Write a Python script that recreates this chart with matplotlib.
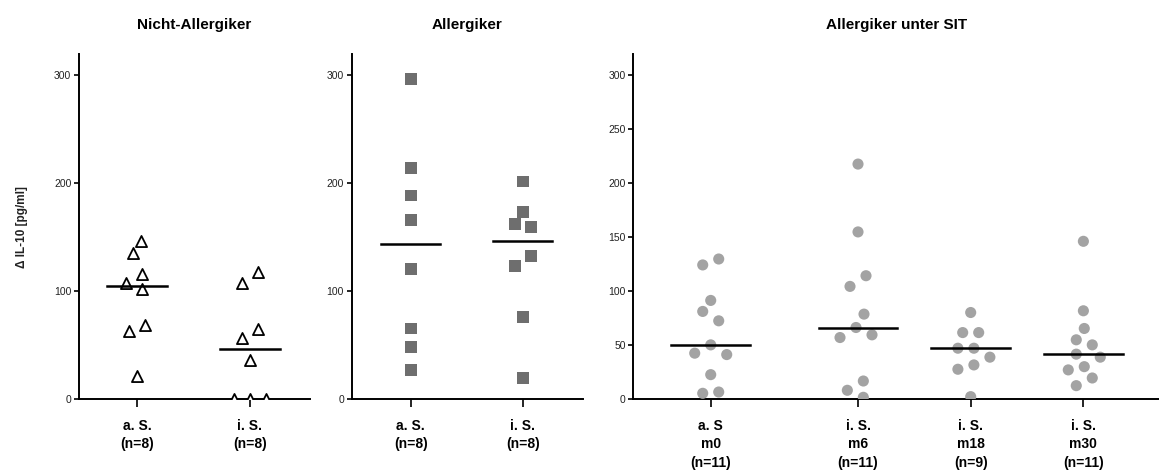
import numpy as np
import matplotlib.pyplot as plt

plt.rcParams['font.family'] = ['Liberation Sans', 'DejaVu Sans']

# values, per group
na_as = [146.6, 134.9, 115.7, 107.6, 102.0, 68.4, 63.1, 21.3]
na_is = [117.4, 107.6, 64.7, 56.6, 35.9, 0, 0, 0]
al_as = [296.1, 213.8, 188.3, 165.7, 120.2, 65.1, 47.9, 26.6]
al_is = [201.3, 173.4, 161.7, 159.5, 132.5, 123.2, 75.8, 19.5]
sit_m0 = [129.5, 124.0, 91.1, 80.9, 72.2, 49.9, 42.2, 40.9, 22.3, 6.2, 5.0]
sit_m6 = [217.5, 154.6, 114.0, 104.1, 78.4, 66.0, 59.2, 56.7, 16.4, 7.8, 1.3]
sit_m18 = [79.9, 61.3, 61.3, 46.8, 46.8, 38.5, 31.3, 27.3, 1.9]
sit_m30 = [145.9, 81.5, 65.1, 54.6, 49.9, 41.3, 38.5, 29.7, 26.7, 19.2, 12.1]

titles = ["Nicht-Allergiker", "Allergiker", "Allergiker unter SIT"]
labels_na = ["a. S.\n(n=8)", "i. S.\n(n=8)"]
labels_al = ["a. S.\n(n=8)", "i. S.\n(n=8)"]
labels_sit = ["a. S\nm0\n(n=11)", "i. S.\nm6\n(n=11)", "i. S.\nm18\n(n=9)", "i. S.\nm30\n(n=11)"]

W, H = 1159, 474
fig = plt.figure(figsize=(W / 100, H / 100), dpi=100)


def swarm(vals, ppx, ppy, step=8, d=13.5):
    # simple beeswarm on a pixel grid, highest values first
    vals = np.asarray(vals, float)
    offs = np.zeros(len(vals))
    placed = []
    order = np.argsort(-vals, kind='stable')
    for i in order:
        y = vals[i] * ppy
        found = None
        for k in range(30):
            for c in ([0] if k == 0 else [-k * step, k * step]):
                if all((c - px) ** 2 + (y - py) ** 2 >= d * d for px, py in placed):
                    found = c
                    break
            if found is not None:
                break
        placed.append((found, y))
        offs[i] = found
    # re-centre each vertically touching cluster so it sits symmetric
    ys = vals * ppy
    comp = [[order[0]]]
    for a, b in zip(order[:-1], order[1:]):
        if ys[a] - ys[b] < d:
            comp[-1].append(b)
        else:
            comp.append([b])
    for c in comp:
        if len(c) > 1:
            offs[c] -= offs[c].mean()
    return offs / ppx


panels = [
    dict(rect=(79, 310), groups=[na_as, na_is], pos=[0, 1], xlim=(-0.513, 1.531),
         labels=labels_na, yticks=[0, 100, 200, 300], marker='^', fc='white', ec='black',
         ms=8, half=0.265, d=13.5),
    dict(rect=(351.7, 583), groups=[al_as, al_is], pos=[0, 1], xlim=(-0.527, 1.538),
         labels=labels_al, yticks=[0, 100, 200, 300], marker='s', fc='#6e6e6e', ec='none',
         ms=8.5, half=0.265, d=13.5),
    dict(rect=(633.3, 1159), groups=[sit_m0, sit_m6, sit_m18, sit_m30], pos=[0, 1.307, 2.307, 3.307],
         xlim=(-0.687, 3.978), labels=labels_sit, yticks=[0, 50, 100, 150, 200, 250, 300],
         marker='o', fc='#a3a3a3', ec='none', ms=8, half=0.35, d=13.5),
]

top_px, bot_px = 53.5, 398.7
ylim = (0, 320)

for p, title in zip(panels, titles):
    x0, x1 = p['rect']
    ax = fig.add_axes([x0 / W, 1 - bot_px / H, (x1 - x0) / W, (bot_px - top_px) / H])
    ax.set_xlim(*p['xlim'])
    ax.set_ylim(*ylim)
    ppx = (x1 - x0) / (p['xlim'][1] - p['xlim'][0])
    ppy = (bot_px - top_px) / (ylim[1] - ylim[0])
    for xc, vals in zip(p['pos'], p['groups']):
        offs = swarm(vals, ppx, ppy, d=p['d'])
        lw = 1.3 if p['fc'] == 'white' else 0
        ax.scatter(xc + offs, vals, s=p['ms'] ** 2, marker=p['marker'], facecolor=p['fc'],
                   edgecolor=p['ec'], linewidths=lw, zorder=3)
        med = np.median(vals)
        ax.plot([xc - p['half'], xc + p['half']], [med, med], color='black', lw=1.8, zorder=4)

    for s in ['top', 'right']:
        ax.spines[s].set_visible(False)
    for s in ['left', 'bottom']:
        ax.spines[s].set_linewidth(1.4)
    ax.set_yticks(p['yticks'])
    ax.set_xticks(p['pos'])
    ax.set_xticklabels(p['labels'], fontweight='bold', fontsize=10, linespacing=1.4)
    ax.tick_params(axis='y', length=3.5, width=1.2, pad=2, labelsize=7.5, labelcolor='#222222')
    ax.tick_params(axis='x', length=5.5, width=1.2, pad=9)
    fig.text((x0 + x1) / 2 / W, 1 - 25 / H, title, ha='center', va='center',
             fontsize=11, fontweight='bold')

fig.text(22 / W, 1 - 227 / H, "Δ IL-10 [pg/ml]", rotation=90, ha='center', va='center',
         fontsize=8.5, fontweight='bold', color='#222222')

fig.savefig('out.png', dpi=100)
